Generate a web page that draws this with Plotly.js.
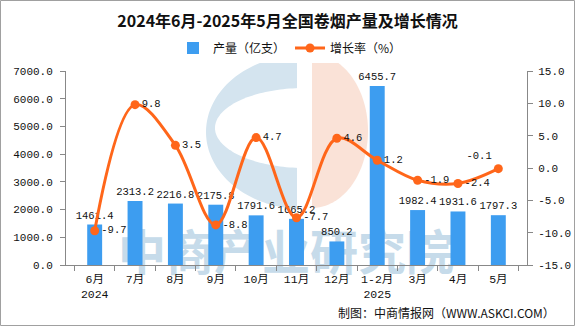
<!DOCTYPE html>
<html>
<head>
<meta charset="utf-8">
<script src="https://cdn.plot.ly/plotly-3.0.1.min.js"></script>
<style>html,body{margin:0;padding:0;background:#fff;}#chart{width:575px;height:326px;}</style>
</head>
<body>
<div id="chart"></div>
<script>
// ---- data ----
const categories = ['6月<br>2024','7月','8月','9月','10月','11月','12月','1-2月<br>2025','3月','4月','5月'];
const output = [1461.4, 2313.2, 2216.8, 2175.8, 1791.6, 1665.2, 850.2, 6455.7, 1982.4, 1931.6, 1797.3];
const growth = [-9.7, 9.8, 3.5, -8.8, 4.7, -7.7, 4.6, 1.2, -1.9, -2.4, -0.1];
const leftTicks = [0, 1000, 2000, 3000, 4000, 5000, 6000, 7000];
const rightTicks = [-15, -10, -5, 0, 5, 10, 15];
const seriesNames = ['产量（亿支）', '增长率（%）'];
const titleText = '2024年6月-2025年5月全国卷烟产量及增长情况';
const sourceText = '制图：中商情报网（WWW.ASKCI.COM）';
const watermarkText = '中商产业研究院';

// ---- layout helpers (pixel -> paper) ----
const L = 66, R = 527, T = 71, B = 265;
const W = R - L, H = B - T;
const px = x => (x - L) / W;
const py = y => (B - y) / H;

function ellipsePath(cx, cy, rx, ry, xmin, xmax) {
  const pts = [];
  for (let i = 0; i <= 180; i++) {
    const a = i / 180 * 2 * Math.PI;
    let x = cx + rx * Math.cos(a), y = cy + ry * Math.sin(a);
    x = Math.max(xmin, Math.min(xmax, x));
    pts.push((i ? 'L' : 'M') + px(x).toFixed(5) + ',' + py(y).toFixed(5));
  }
  return pts.join(' ') + ' Z';
}

const monoFont = 'Liberation Mono, DejaVu Sans Mono, Noto Sans CJK SC, monospace';
const cjkFont = 'Noto Sans CJK SC, sans-serif';

const barTrace = {
  type: 'bar', name: seriesNames[0], x: categories, y: output,
  marker: {color: '#3D9DF0'}, width: 0.37,
  text: output.map(v => v.toFixed(1)), textposition: 'outside', constraintext: 'none',
  textfont: {family: monoFont, size: 10.5, color: '#111'},
  cliponaxis: false, hoverinfo: 'skip'
};
const lineTrace = {
  type: 'scatter', mode: 'lines+markers+text', name: seriesNames[1],
  x: categories, y: growth, yaxis: 'y2',
  line: {color: '#FF661A', width: 3, shape: 'spline', smoothing: 1},
  marker: {color: '#FF661A', size: 9},
  text: growth.map(v => v.toFixed(1)),
  textposition: growth.map((v, i) => i === growth.length - 1 ? 'top left' : 'middle right'),
  textfont: {family: monoFont, size: 10.5, color: '#111'},
  cliponaxis: false, hoverinfo: 'skip'
};

const shapes = [
  // logo watermark
  {type: 'path', xref: 'paper', yref: 'paper', layer: 'below', line: {width: 0},
   fillcolor: 'rgb(212,228,239)', path: ellipsePath(303, 132, 97, 77, 150, 297)},
  {type: 'path', xref: 'paper', yref: 'paper', layer: 'below', line: {width: 0},
   fillcolor: '#ffffff', path: ellipsePath(305, 128, 90, 40, 0, 1000)},
  {type: 'path', xref: 'paper', yref: 'paper', layer: 'below', line: {width: 0},
   fillcolor: 'rgb(250,226,215)', path: ellipsePath(312, 131, 56, 77, 312, 1000)},
  // text watermark
  {type: 'rect', xref: 'paper', yref: 'paper', layer: 'below', line: {width: 0},
   fillcolor: 'rgba(0,0,0,0)', x0: px(110), x1: px(462), y0: py(282), y1: py(232),
   label: {text: watermarkText, textposition: 'middle center',
     font: {family: cjkFont, size: 48, color: 'rgb(198,219,234)', weight: 'bold'}}},
  // border
  {type: 'rect', xref: 'paper', yref: 'paper', layer: 'above',
   x0: px(0.5), x1: px(574.5), y0: py(325.5), y1: py(0.5),
   line: {color: '#a0a0a0', width: 1}, fillcolor: 'rgba(0,0,0,0)'}
];

const layout = {
  width: 575, height: 326,
  margin: {l: L, r: 575 - R, t: T, b: 326 - B, pad: 0},
  paper_bgcolor: '#fff', plot_bgcolor: 'rgba(0,0,0,0)',
  font: {family: cjkFont, color: '#111'},
  title: {text: '<b>' + titleText + '</b>', x: 0.5, xanchor: 'center', y: 1 - 21 / 326, yanchor: 'middle',
    font: {family: cjkFont, size: 16, color: '#111'}},
  showlegend: true,
  legend: {orientation: 'h', x: px(290), xanchor: 'center', y: py(48), yanchor: 'middle',
    font: {family: cjkFont, size: 12, color: '#111'}, traceorder: 'normal', itemwidth: 30},
  xaxis: {type: 'category', tickson: 'boundaries', ticks: 'outside', ticklen: 5, tickcolor: '#888',
    tickangle: 0, automargin: false, ticklabelstandoff: 3,
    showline: true, linecolor: '#888', linewidth: 1, showgrid: false, zeroline: false,
    tickfont: {family: monoFont, size: 11.5, color: '#111'}, fixedrange: true},
  yaxis: {range: [0, 7000], tickvals: leftTicks, ticktext: leftTicks.map(v => v.toFixed(1)),
    ticks: 'outside', ticklen: 5, tickcolor: '#888', showline: true, linecolor: '#888',
    ticklabelstandoff: 5, automargin: false,
    showgrid: false, zeroline: false, tickfont: {family: monoFont, size: 11, color: '#111'}},
  yaxis2: {overlaying: 'y', side: 'right', range: [-15, 15], tickvals: rightTicks,
    ticktext: rightTicks.map(v => v.toFixed(1)), ticks: 'outside', ticklen: 5, tickcolor: '#888',
    showline: true, linecolor: '#888', ticklabelstandoff: 3, automargin: false,
    showgrid: false, zeroline: false,
    tickfont: {family: monoFont, size: 11, color: '#111'}},
  shapes: shapes,
  annotations: [{text: sourceText, xref: 'paper', yref: 'paper', x: px(557), xanchor: 'right',
    y: py(312), yanchor: 'middle', showarrow: false,
    font: {family: cjkFont, size: 12, color: '#111'}}]
};

Plotly.newPlot('chart', [barTrace, lineTrace], layout, {displayModeBar: false, staticPlot: true});
</script>
</body>
</html>
